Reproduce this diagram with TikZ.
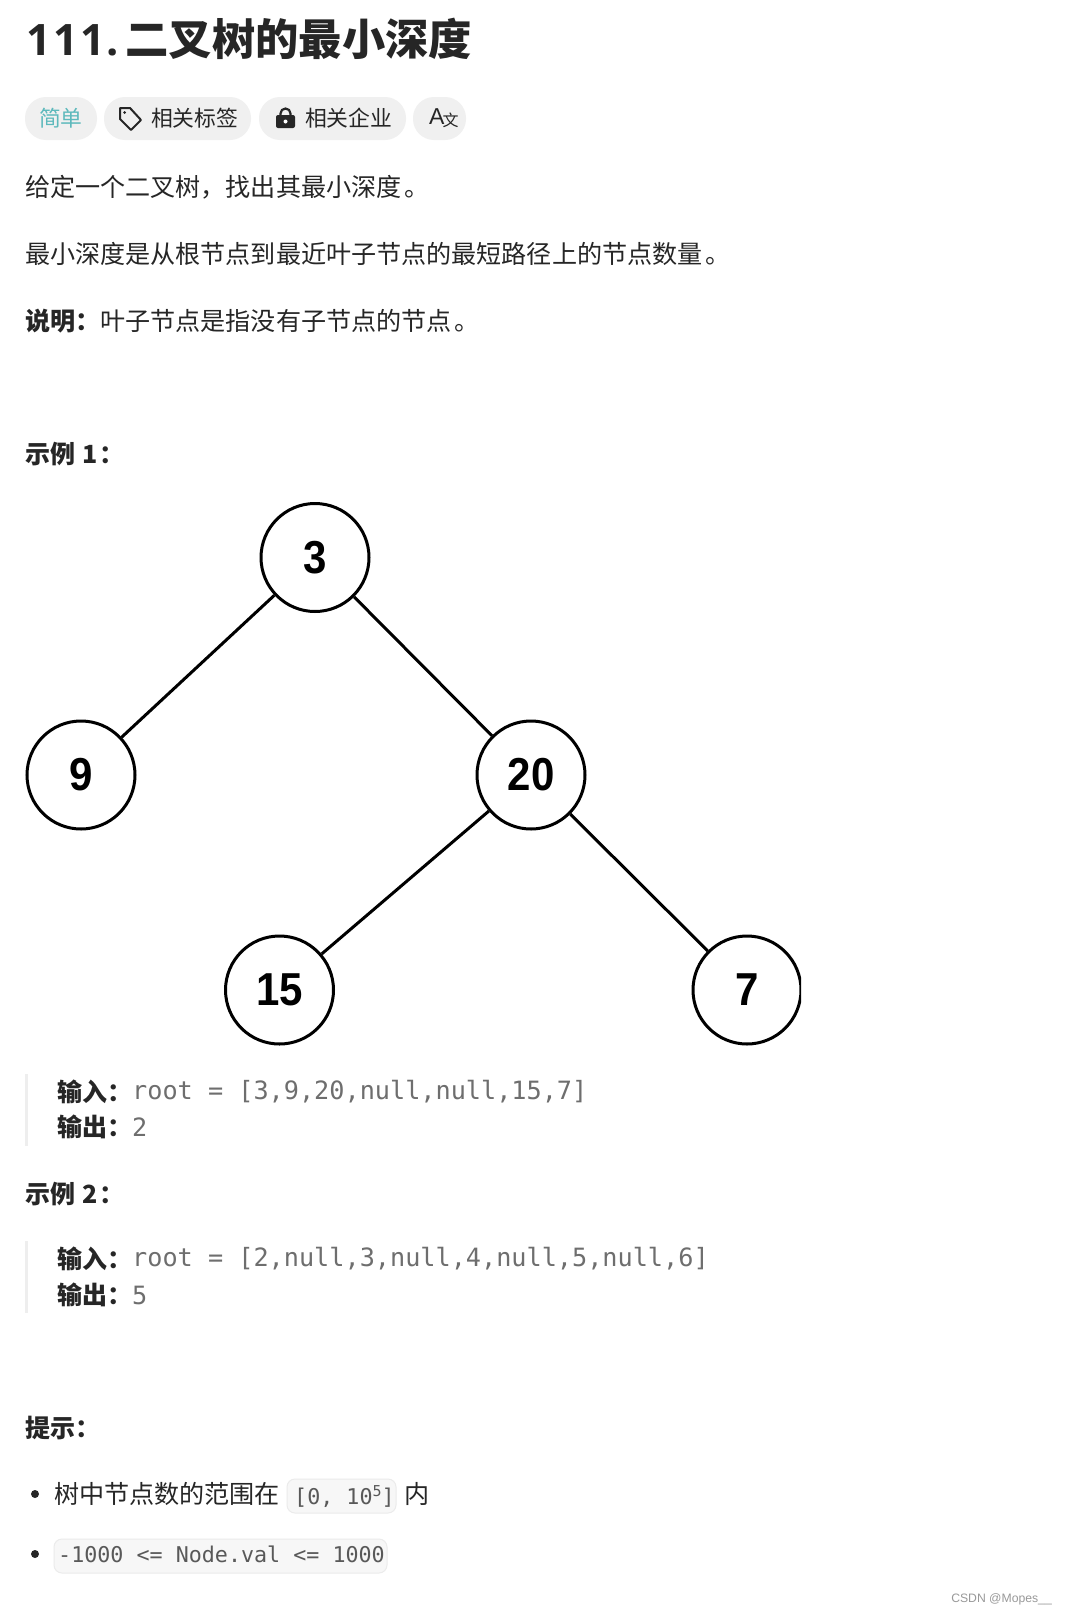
\documentclass[tikz,border=0pt]{standalone}
\usepackage{fontspec}
\usepackage{graphicx}
\setmainfont{Noto Sans CJK SC}
\newfontfamily\latinbold{Open Sans}
\newfontfamily\treefont{Liberation Sans}
\newfontfamily\codefont{DejaVu Sans Mono}
\definecolor{ink}{HTML}{262626}
\definecolor{pillbg}{HTML}{F0F0F0}
\definecolor{teal1}{HTML}{5DB9BC}
\definecolor{codegray}{HTML}{6E6E6E}
\definecolor{codedark}{HTML}{595959}
\definecolor{barcol}{HTML}{EEEEEE}
\definecolor{codebg}{HTML}{F7F7F7}
\definecolor{codeline}{HTML}{EBEBEB}
\newcommand{\tnum}[1]{\scalebox{1}[1.1]{#1}}
\newcommand{\stopmark}{\hspace{3pt}。}
\tikzset{
  txt/.style={anchor=west,inner sep=0pt,outer sep=0pt,text=ink,font=\fontsize{25.1}{30}\selectfont},
  small/.style={txt,font=\fontsize{21.8}{28}\selectfont},
  head/.style={txt,font=\fontsize{25}{30}\selectfont\bfseries},
  code/.style={anchor=west,inner sep=0pt,text=codegray,font=\fontsize{25.2}{30}\selectfont\codefont},
  inlinecode/.style={anchor=west,inner sep=0pt,text=codedark,font=\fontsize{21.7}{28}\selectfont\codefont},
  treenode/.style={circle,draw=black,line width=3pt,minimum size=108pt,inner sep=0pt,fill=white,font=\fontsize{42}{50}\selectfont\treefont\bfseries},
  edge/.style={draw=black,line width=3pt},
  pill/.style={fill=pillbg,rounded corners=21pt},
  bar/.style={fill=barcol},
  codebox/.style={fill=codebg,draw=codeline,line width=1pt,rounded corners=8pt},
}
\begin{document}
\begin{tikzpicture}[x=1pt,y=-1pt]
\useasboundingbox (0,0) rectangle (1068,1614);
\fill[white] (0,0) rectangle (1068,1614);
% title
\node[anchor=west,inner sep=0pt,text=ink,font=\fontsize{43.3}{50}\selectfont\bfseries] (title) at (26,39) {{\latinbold\bfseries 1\hspace{2.5pt}1\hspace{2.5pt}1\hspace{1pt}.}\hspace{7pt}二叉树的最小深度};
% pills
\fill[pill] (25,97) rectangle (97,140);
\fill[pill] (104,97) rectangle (251,140);
\fill[pill] (259,97) rectangle (406,140);
\fill[pill] (413,97) rectangle (466,140);
\node[small,text=teal1] (easy) at (39,118) {简单};
\draw[ink,line width=2pt,line join=round] (120,108) -- (130,108) -- (141,120) -- (131,130) -- (120,119) -- cycle;
\fill[ink] (124.5,112.5) circle (1.5pt);
\node[small] (tags) at (151,118) {相关标签};
\fill[ink,rounded corners=2pt] (276,115) rectangle (295,128);
\draw[ink,line width=2.2pt] (280.5,116) -- (280.5,113.5) arc (180:360:5) -- (290.5,116);
\fill[white] (285.5,121.5) circle (2pt);
\node[small] (corp) at (305,118) {相关企业};
\node[anchor=west,inner sep=0pt,text=ink,font=\fontsize{23}{28}\selectfont] (lang) at (429,118) {{\treefont A}\hspace{-2pt}\raisebox{-2pt}{\fontsize{16}{16}\selectfont 文}};
% paragraphs
\node[txt] (p1) at (25,187) {给定一个二叉树，找出其最小深度\stopmark};
\node[txt] (p2) at (25,254) {最小深度是从根节点到最近叶子节点的最短路径上的节点数量\stopmark};
\node[txt] (p3) at (25,321) {{\bfseries 说明：}叶子节点是指没有子节点的节点\stopmark};
\node[head] (ex1) at (25,454) {示例\hspace{7pt}1\hspace{2pt}：};
% tree
\begin{scope}
\clip (0,480) rectangle (801,1045);
\node[treenode] (n3) at (315,557.5) {\tnum{3}};
\node[treenode] (n9) at (81,775) {\tnum{9}};
\node[treenode] (n20) at (531,775) {\tnum{20}};
\node[treenode] (n15) at (279.5,990) {\tnum{15}};
\node[treenode] (n7) at (747,990) {\tnum{7}};
\draw[edge] (n3) -- (n9);
\draw[edge] (n3) -- (n20);
\draw[edge] (n20) -- (n15);
\draw[edge] (n20) -- (n7);
\end{scope}
% example 1 block
\fill[bar] (25,1074) rectangle (28,1146);
\node[head] (in1) at (57,1092) {输入：};
\node[code] (in1v) at (132,1092) {root = [3,9,20,null,null,15,7]};
\node[head] (out1) at (57,1127) {输出：};
\node[code] (out1v) at (132,1127) {2};
\node[head] (ex2) at (25,1194) {示例\hspace{7pt}2\hspace{2pt}：};
\fill[bar] (25,1241) rectangle (28,1313);
\node[head] (in2) at (57,1259) {输入：};
\node[code] (in2v) at (132,1259) {root = [2,null,3,null,4,null,5,null,6]};
\node[head] (out2) at (57,1295) {输出：};
\node[code] (out2v) at (132,1295) {5};
\node[head] (tip) at (25,1428) {提示：};
% bullets
\fill[ink] (35,1494) circle (4pt);
\node[txt] (b1) at (54,1494) {树中节点数的范围在};
\draw[codebox] (287,1479) rectangle (396,1513);
\node[inlinecode] (b1c) at (294,1497) {[0, 10\raisebox{8pt}{\fontsize{15}{15}\selectfont 5}]};
\node[txt] (b1e) at (404,1494) {内};
\fill[ink] (35,1554) circle (4pt);
\draw[codebox] (54,1539) rectangle (387,1573);
\node[inlinecode] (b2c) at (58,1554) {-1000 <= Node.val <= 1000};
% watermark
\node[anchor=east,inner sep=0pt,text=black!40,font=\fontsize{12.2}{16}\selectfont\treefont] (wm) at (1052,1599) {CSDN @Mopes\_\_};
\end{tikzpicture}
\end{document}
